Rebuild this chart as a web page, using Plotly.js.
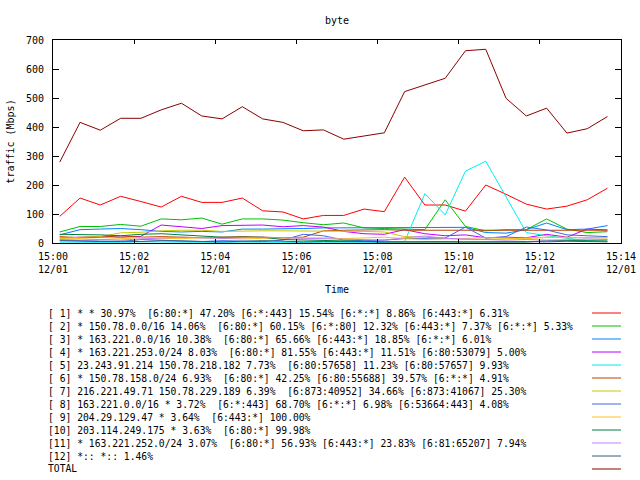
<!DOCTYPE html>
<html>
<head>
<meta charset="utf-8">
<script src="https://cdn.plot.ly/plotly-3.0.1.min.js"></script>
<style>
  html, body { margin: 0; padding: 0; background: #ffffff; }
  #chart { width: 640px; height: 480px; }
</style>
</head>
<body>
<div id="chart"></div>
<script>
// sample times (every 30 s)
const times = [
  "2011-12-01 15:00:10", "2011-12-01 15:00:40", "2011-12-01 15:01:10", "2011-12-01 15:01:40",
  "2011-12-01 15:02:10", "2011-12-01 15:02:40", "2011-12-01 15:03:10", "2011-12-01 15:03:40",
  "2011-12-01 15:04:10", "2011-12-01 15:04:40", "2011-12-01 15:05:10", "2011-12-01 15:05:40",
  "2011-12-01 15:06:10", "2011-12-01 15:06:40", "2011-12-01 15:07:10", "2011-12-01 15:07:40",
  "2011-12-01 15:08:10", "2011-12-01 15:08:40", "2011-12-01 15:09:10", "2011-12-01 15:09:40",
  "2011-12-01 15:10:10", "2011-12-01 15:10:40", "2011-12-01 15:11:10", "2011-12-01 15:11:40",
  "2011-12-01 15:12:10", "2011-12-01 15:12:40", "2011-12-01 15:13:10", "2011-12-01 15:13:40"
];

// traffic per flow (Mbps)
const flow1 = [92, 155, 131, 161, 143, 124, 161, 140, 140, 155, 111, 107, 83, 95, 95, 117, 108, 227, 131, 131, 110, 200, 168, 134, 117, 127, 149, 189];
const flow2 = [38, 57, 57, 64, 58, 83, 80, 86, 65, 83, 83, 79, 70, 63, 69, 52, 50, 48, 46, 149, 57, 42, 46, 46, 83, 48, 36, 39];
const flow3 = [28, 46, 48, 50, 46, 40, 38, 40, 38, 48, 48, 48, 50, 52, 52, 52, 52, 52, 54, 52, 54, 36, 34, 46, 69, 46, 48, 60];
const flow4 = [18, 20, 22, 20, 23, 62, 57, 50, 60, 62, 62, 56, 60, 55, 40, 32, 30, 46, 32, 25, 28, 18, 20, 18, 30, 20, 48, 45];
const flow5 = [3, 2, 3, 2, 4, 3, 2, 3, 2, 3, 2, 3, 2, 3, 2, 3, 2, 5, 170, 97, 248, 282, 160, 36, 25, 16, 8, 5];
const flow6 = [22, 18, 20, 25, 20, 22, 20, 18, 20, 22, 20, 18, 20, 42, 44, 46, 46, 44, 44, 44, 45, 43, 44, 44, 44, 44, 44, 44];
const flow7 = [15, 20, 22, 35, 37, 42, 44, 44, 40, 42, 42, 42, 42, 42, 42, 40, 38, 22, 20, 15, 12, 12, 15, 18, 20, 18, 20, 20];
const flow8 = [10, 8, 5, 5, 12, 10, 8, 5, 8, 6, 5, 10, 30, 25, 10, 8, 10, 15, 16, 17, 55, 17, 22, 55, 45, 28, 25, 22];
const flow9 = [18, 15, 12, 15, 18, 16, 15, 18, 15, 14, 16, 17, 19, 18, 15, 18, 20, 15, 12, 14, 16, 18, 17, 15, 19, 20, 18, 17];
const flow10 = [30, 30, 28, 25, 30, 32, 28, 22, 20, 20, 20, 12, 10, 8, 6, 5, 4, 3, 3, 2, 1, 2, 3, 3, 8, 8, 10, 10];
const flow11 = [12, 10, 12, 10, 14, 18, 20, 18, 16, 18, 20, 18, 16, 15, 14, 12, 10, 18, 24, 16, 14, 12, 10, 12, 10, 11, 14, 12];
const flow12 = [8, 6, 5, 6, 5, 8, 6, 5, 4, 6, 8, 6, 4, 5, 6, 5, 4, 5, 6, 5, 4, 5, 6, 5, 4, 6, 5, 4];
const total = [279, 416, 389, 430, 430, 459, 482, 438, 428, 470, 428, 416, 387, 390, 358, 369, 380, 522, 545, 568, 663, 668, 499, 438, 465, 379, 394, 436];

const labels = [
  "[ 1] * * 30.97%  [6:80:*] 47.20% [6:*:443] 15.54% [6:*:*] 8.86% [6:443:*] 6.31%",
  "[ 2] * 150.78.0.0/16 14.06%  [6:80:*] 60.15% [6:*:80] 12.32% [6:443:*] 7.37% [6:*:*] 5.33%",
  "[ 3] * 163.221.0.0/16 10.38%  [6:80:*] 65.66% [6:443:*] 18.85% [6:*:*] 6.01%",
  "[ 4] * 163.221.253.0/24 8.03%  [6:80:*] 81.55% [6:443:*] 11.51% [6:80:53079] 5.00%",
  "[ 5] 23.243.91.214 150.78.218.182 7.73%  [6:80:57658] 11.23% [6:80:57657] 9.93%",
  "[ 6] * 150.78.158.0/24 6.93%  [6:80:*] 42.25% [6:80:55688] 39.57% [6:*:*] 4.91%",
  "[ 7] 216.221.49.71 150.78.229.189 6.39%  [6:873:40952] 34.66% [6:873:41067] 25.30%",
  "[ 8] 163.221.0.0/16 * 3.72%  [6:*:443] 68.70% [6:*:*] 6.98% [6:53664:443] 4.08%",
  "[ 9] 204.29.129.47 * 3.64%  [6:443:*] 100.00%",
  "[10] 203.114.249.175 * 3.63%  [6:80:*] 99.98%",
  "[11] * 163.221.252.0/24 3.07%  [6:80:*] 56.93% [6:443:*] 23.83% [6:81:65207] 7.94%",
  "[12] *:: *:: 1.46%",
  "TOTAL"
];

const colors = [
  "#ff0000", "#00c000", "#0080ff", "#c000ff", "#00eeee", "#c04000", "#c8c800",
  "#4169e1", "#ffc020", "#008040", "#c080ff", "#306080", "#8b0000"
];

const series = [flow1, flow2, flow3, flow4, flow5, flow6, flow7, flow8, flow9, flow10, flow11, flow12, total];

// plot box in pixels (gnuplot layout)
const L = 53, R = 621, T = 40, B = 243;
const px = (x) => (x - L) / (R - L);
const py = (y) => (B - y) / (B - T);

const FONT = { family: "DejaVu Sans Mono, Liberation Mono, monospace", size: 10, color: "#000000" };
const KEY_FONT = { family: FONT.family, size: 9.7, color: "#000000" };

const traces = series.map((ys, i) => ({
  type: "scatter",
  mode: "lines",
  x: times,
  y: ys,
  showlegend: false,
  hoverinfo: "skip",
  line: { color: colors[i], width: 1 }
}));

const annotations = labels.map((text, i) => ({
  xref: "paper",
  yref: "paper",
  x: px(47),
  y: py(313 + 13 * i),
  xanchor: "left",
  yanchor: "middle",
  showarrow: false,
  borderpad: 0,
  text: text.replace(/ /g, "\u00a0"),
  font: KEY_FONT
}));

const shapes = labels.map((_, i) => ({
  type: "line",
  xref: "paper",
  yref: "paper",
  x0: px(592),
  x1: px(621),
  y0: py(313 + 13 * i),
  y1: py(313 + 13 * i),
  line: { color: colors[i], width: 1 }
}));

const layout = {
  width: 640,
  height: 480,
  margin: { l: L, r: 640 - R, t: T, b: 480 - B },
  paper_bgcolor: "#ffffff",
  plot_bgcolor: "#ffffff",
  font: FONT,
  showlegend: false,
  title: {
    text: "byte",
    xref: "paper",
    x: 0.5,
    xanchor: "center",
    yref: "container",
    y: 1 - 20 / 480,
    yanchor: "middle",
    font: FONT
  },
  xaxis: {
    type: "date",
    range: ["2011-12-01 15:00:00", "2011-12-01 15:14:00"],
    tick0: "2011-12-01 15:00:00",
    dtick: 120000,
    tickformat: "%H:%M<br>%m/%d",
    ticks: "inside",
    ticklen: 4,
    tickcolor: "#000000",
    showline: true,
    linecolor: "#000000",
    linewidth: 1,
    mirror: "ticks",
    showgrid: false,
    zeroline: false,
    tickfont: FONT,
    ticklabelstandoff: 4,
    title: { text: "Time", font: FONT, standoff: 11 }
  },
  yaxis: {
    range: [0, 700],
    dtick: 100,
    ticks: "inside",
    ticklen: 6,
    tickcolor: "#000000",
    showline: true,
    linecolor: "#000000",
    linewidth: 1,
    mirror: "ticks",
    showgrid: false,
    zeroline: false,
    tickfont: FONT,
    ticklabelstandoff: 6,
    title: { text: "traffic (Mbps)", font: FONT, standoff: 9 }
  },
  annotations,
  shapes
};

Plotly.newPlot("chart", traces, layout, { displayModeBar: false, staticPlot: true });
</script>
</body>
</html>
